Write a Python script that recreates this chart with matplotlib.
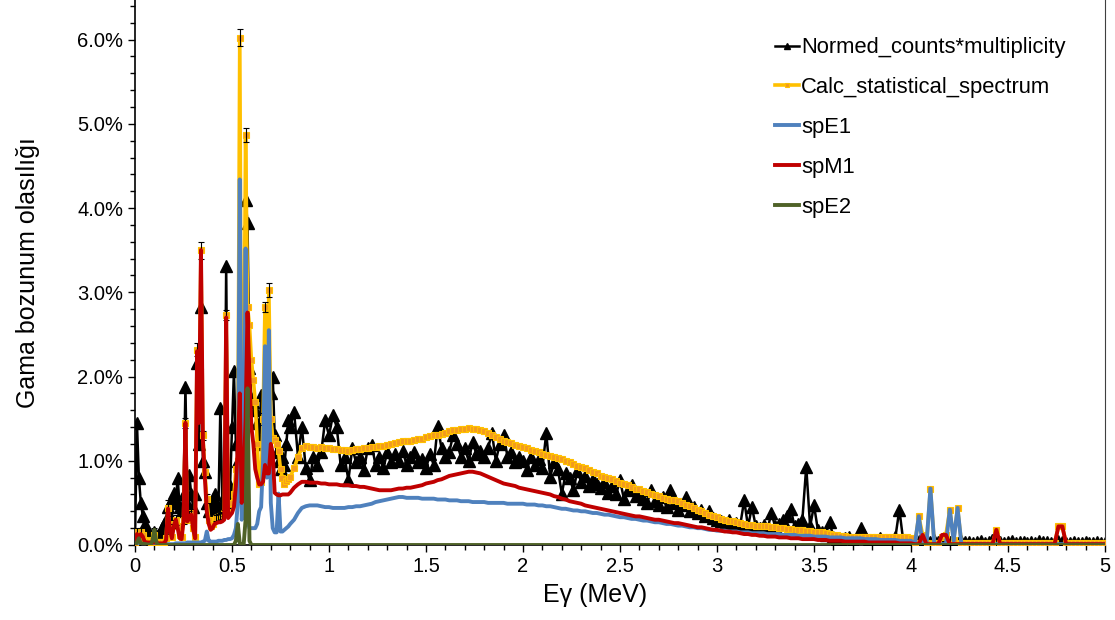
import numpy as np
import matplotlib
matplotlib.use("Agg")
import matplotlib.pyplot as plt
from matplotlib.ticker import MultipleLocator, PercentFormatter, FuncFormatter

plt.rcParams['font.family'] = ['Liberation Sans', 'DejaVu Sans']

# energy bins (MeV): 0.01 steps up to 0.8, then 0.02 steps up to 5
fine_energy = np.round(np.arange(0.0, 0.805, 0.01), 2)
coarse_energy = np.round(np.arange(0.82, 5.001, 0.02), 2)
energy = np.concatenate([fine_energy, coarse_energy])

# values in percent
# Normed_counts*multiplicity
exp_fine = [
    0.05, 1.45, 0.80, 0.50, 0.35, 0.25, 0.18, 0.12, 0.08, 0.06,
    0.15, 0.05, 0.12, 0.10, 0.20, 0.25, 0.30, 0.45, 0.35, 0.55,
    0.62, 0.50, 0.80, 0.45, 0.40, 0.60, 1.88, 0.50, 0.83, 0.60,
    0.45, 0.60, 2.16, 1.20, 2.83, 1.00, 0.87, 0.50, 0.40, 0.45,
    0.55, 0.60, 0.50, 0.45, 1.63, 0.50, 0.45, 3.31, 0.60, 0.70,
    1.40, 2.06, 1.20, 1.00, 0.90, 1.50, 2.30, 4.10, 3.82, 2.10,
    1.75, 1.70, 1.60, 1.45, 1.20, 1.78, 1.30, 1.40, 1.10, 1.00,
    1.80, 2.00, 1.30, 1.10, 1.00, 0.90, 1.05, 0.95, 1.20, 1.48, 1.40,
]
exp_coarse = [
    1.58, 1.05, 1.40, 0.92, 0.77, 1.05, 0.95, 1.10, 1.48, 1.30,
    1.54, 1.40, 0.95, 1.05, 0.77, 1.15, 0.98, 1.05, 0.89, 1.15,
    1.19, 0.95, 1.05, 0.91, 1.10, 0.98, 1.08, 1.00, 1.12, 0.95,
    1.05, 1.10, 0.98, 1.02, 0.91, 1.08, 0.95, 1.41, 1.15, 1.05,
    1.10, 1.31, 1.20, 1.05, 1.15, 1.00, 1.22, 1.08, 1.12, 1.05,
    1.15, 1.33, 1.00, 1.20, 1.31, 1.05, 1.10, 0.98, 1.05, 1.00,
    0.89, 1.05, 0.95, 1.02, 0.92, 1.33, 0.81, 0.98, 0.90, 0.61,
    0.85, 0.80, 0.65, 0.88, 0.75, 0.82, 0.70, 0.78, 0.72, 0.68,
    0.75, 0.62, 0.70, 0.60, 0.77, 0.55, 0.65, 0.71, 0.58, 0.62,
    0.55, 0.50, 0.65, 0.52, 0.48, 0.57, 0.45, 0.65, 0.50, 0.42,
    0.48, 0.57, 0.40, 0.45, 0.38, 0.42, 0.35, 0.40, 0.32, 0.30,
    0.28, 0.25, 0.30, 0.22, 0.26, 0.24, 0.53, 0.22, 0.45, 0.22,
    0.20, 0.24, 0.18, 0.38, 0.22, 0.25, 0.30, 0.35, 0.43, 0.22,
    0.25, 0.30, 0.93, 0.22, 0.47, 0.18, 0.15, 0.12, 0.27, 0.10,
    0.06, 0.05, 0.08, 0.10, 0.05, 0.08, 0.20, 0.12, 0.04, 0.06,
    0.05, 0.08, 0.05, 0.04, 0.06, 0.10, 0.42, 0.05, 0.04, 0.03,
    0.03, 0.05, 0.02, 0.04, 0.03, 0.06, 0.03, 0.04, 0.05, 0.03,
    0.04, 0.02, 0.05, 0.03, 0.04, 0.02, 0.03, 0.05, 0.02, 0.03,
    0.06, 0.03, 0.04, 0.02, 0.03, 0.05, 0.02, 0.03, 0.04, 0.02,
    0.03, 0.02, 0.05, 0.03, 0.04, 0.02, 0.03, 0.05, 0.03, 0.02,
    0.02, 0.03, 0.02, 0.02, 0.03, 0.02, 0.02, 0.03, 0.02, 0.02,
]

# Calc_statistical_spectrum
calc_fine = [
    0.02, 0.15, 0.10, 0.15, 0.12, 0.06, 0.05, 0.05, 0.04, 0.06,
    0.12, 0.04, 0.03, 0.03, 0.03, 0.03, 0.08, 0.44, 0.20, 0.10,
    0.25, 0.30, 0.22, 0.12, 0.10, 0.30, 1.45, 0.30, 0.35, 0.38,
    0.20, 0.10, 2.32, 1.50, 3.50, 1.30, 0.87, 0.55, 0.30, 0.22,
    0.25, 0.30, 0.32, 0.33, 0.34, 0.35, 0.38, 2.73, 0.40, 0.45,
    0.50, 0.60, 0.90, 1.00, 6.02, 1.20, 1.50, 4.87, 2.83, 2.61,
    2.20, 1.96, 1.70, 1.20, 0.73, 0.75, 1.50, 2.83, 1.50, 3.03,
    1.50, 1.27, 1.25, 1.20, 1.11, 0.90, 0.80, 0.73, 0.76, 0.78, 0.81,
]
calc_coarse = [
    0.91, 1.05, 1.15, 1.17, 1.16, 1.16, 1.15, 1.16, 1.15, 1.15,
    1.14, 1.14, 1.13, 1.13, 1.12, 1.13, 1.14, 1.14, 1.15, 1.15,
    1.16, 1.16, 1.17, 1.18, 1.19, 1.20, 1.21, 1.22, 1.23, 1.24,
    1.24, 1.25, 1.26, 1.26, 1.28, 1.29, 1.30, 1.31, 1.32, 1.33,
    1.35, 1.36, 1.37, 1.38, 1.38, 1.39, 1.38, 1.38, 1.37, 1.35,
    1.33, 1.31, 1.28, 1.26, 1.24, 1.22, 1.21, 1.19, 1.18, 1.16,
    1.15, 1.13, 1.12, 1.10, 1.08, 1.07, 1.06, 1.05, 1.03, 1.02,
    1.00, 0.98, 0.96, 0.94, 0.93, 0.91, 0.89, 0.87, 0.85, 0.82,
    0.81, 0.79, 0.78, 0.76, 0.74, 0.72, 0.71, 0.69, 0.67, 0.66,
    0.64, 0.63, 0.61, 0.59, 0.58, 0.56, 0.55, 0.54, 0.53, 0.52,
    0.50, 0.48, 0.46, 0.44, 0.42, 0.40, 0.38, 0.36, 0.35, 0.33,
    0.31, 0.30, 0.29, 0.28, 0.27, 0.26, 0.25, 0.24, 0.24, 0.23,
    0.23, 0.22, 0.22, 0.21, 0.21, 0.20, 0.20, 0.19, 0.19, 0.18,
    0.18, 0.18, 0.17, 0.17, 0.16, 0.16, 0.15, 0.14, 0.13, 0.12,
    0.12, 0.11, 0.11, 0.10, 0.10, 0.10, 0.10, 0.10, 0.10, 0.10,
    0.10, 0.09, 0.09, 0.09, 0.09, 0.09, 0.09, 0.09, 0.09, 0.08,
    0.02, 0.34, 0.12, 0.02, 0.67, 0.02, 0.02, 0.10, 0.12, 0.42,
    0.06, 0.44, 0.02, 0.02, 0.02, 0.02, 0.02, 0.02, 0.02, 0.02,
    0.02, 0.18, 0.02, 0.02, 0.02, 0.02, 0.02, 0.02, 0.02, 0.02,
    0.02, 0.02, 0.02, 0.02, 0.02, 0.02, 0.02, 0.22, 0.22, 0.02,
    0.02, 0.02, 0.02, 0.02, 0.02, 0.02, 0.02, 0.02, 0.02, 0.02,
]
calc_err_fine = [
    0.00, 0.05, 0.00, 0.05, 0.00, 0.00, 0.00, 0.00, 0.00, 0.00,
    0.08, 0.00, 0.00, 0.00, 0.00, 0.00, 0.00, 0.10, 0.05, 0.00,
    0.05, 0.06, 0.00, 0.00, 0.00, 0.05, 0.06, 0.00, 0.05, 0.05,
    0.00, 0.00, 0.08, 0.00, 0.10, 0.05, 0.06, 0.05, 0.00, 0.00,
    0.00, 0.00, 0.04, 0.04, 0.04, 0.04, 0.04, 0.06, 0.04, 0.00,
    0.00, 0.00, 0.00, 0.00, 0.10, 0.00, 0.00, 0.08, 0.00, 0.00,
    0.00, 0.00, 0.00, 0.00, 0.00, 0.00, 0.07, 0.06, 0.00, 0.08,
    0.00, 0.00, 0.00, 0.00, 0.00, 0.00, 0.00, 0.00, 0.00, 0.00, 0.00,
]

# spE1
e1_fine = [
    0.00, 0.00, 0.00, 0.00, 0.00, 0.00, 0.00, 0.00, 0.00, 0.00,
    0.00, 0.00, 0.00, 0.00, 0.00, 0.00, 0.01, 0.01, 0.01, 0.01,
    0.01, 0.02, 0.02, 0.02, 0.02, 0.02, 0.02, 0.03, 0.03, 0.03,
    0.03, 0.03, 0.03, 0.03, 0.03, 0.04, 0.05, 0.16, 0.05, 0.04,
    0.04, 0.04, 0.04, 0.05, 0.05, 0.05, 0.06, 0.06, 0.07, 0.07,
    0.08, 0.12, 0.20, 0.50, 4.34, 0.30, 0.50, 3.52, 0.30, 0.20,
    0.20, 0.20, 0.20, 0.25, 0.40, 0.45, 1.00, 2.36, 0.80, 2.55,
    0.50, 0.20, 0.15, 0.15, 0.61, 0.16, 0.16, 0.18, 0.20, 0.22, 0.25,
]
e1_coarse = [
    0.30, 0.38, 0.44, 0.46, 0.47, 0.47, 0.47, 0.46, 0.45, 0.45,
    0.44, 0.44, 0.44, 0.44, 0.45, 0.45, 0.46, 0.46, 0.47, 0.48,
    0.49, 0.51, 0.52, 0.53, 0.54, 0.55, 0.56, 0.57, 0.57, 0.56,
    0.56, 0.56, 0.56, 0.55, 0.55, 0.55, 0.55, 0.54, 0.54, 0.54,
    0.53, 0.53, 0.53, 0.52, 0.52, 0.52, 0.51, 0.51, 0.51, 0.51,
    0.50, 0.50, 0.50, 0.50, 0.50, 0.49, 0.49, 0.49, 0.49, 0.49,
    0.48, 0.48, 0.48, 0.47, 0.47, 0.46, 0.46, 0.45, 0.44, 0.43,
    0.43, 0.42, 0.41, 0.41, 0.40, 0.40, 0.39, 0.38, 0.38, 0.37,
    0.36, 0.36, 0.35, 0.34, 0.33, 0.33, 0.32, 0.31, 0.31, 0.30,
    0.29, 0.29, 0.28, 0.27, 0.27, 0.26, 0.25, 0.25, 0.24, 0.23,
    0.23, 0.22, 0.21, 0.21, 0.20, 0.20, 0.19, 0.18, 0.18, 0.17,
    0.17, 0.17, 0.16, 0.16, 0.16, 0.15, 0.15, 0.15, 0.14, 0.14,
    0.14, 0.14, 0.13, 0.13, 0.13, 0.13, 0.12, 0.12, 0.12, 0.12,
    0.11, 0.11, 0.11, 0.11, 0.10, 0.10, 0.10, 0.10, 0.09, 0.09,
    0.09, 0.09, 0.08, 0.08, 0.08, 0.08, 0.08, 0.07, 0.07, 0.07,
    0.07, 0.06, 0.06, 0.06, 0.06, 0.06, 0.05, 0.05, 0.05, 0.05,
    0.01, 0.34, 0.01, 0.01, 0.67, 0.01, 0.01, 0.01, 0.01, 0.42,
    0.05, 0.44, 0.01, 0.01, 0.01, 0.01, 0.01, 0.01, 0.01, 0.01,
    0.01, 0.01, 0.01, 0.01, 0.01, 0.01, 0.01, 0.01, 0.01, 0.01,
    0.01, 0.01, 0.01, 0.01, 0.01, 0.01, 0.01, 0.01, 0.01, 0.01,
    0.01, 0.01, 0.01, 0.01, 0.01, 0.01, 0.01, 0.01, 0.01, 0.01,
]

# spM1
m1_fine = [
    0.02, 0.13, 0.08, 0.13, 0.10, 0.04, 0.03, 0.03, 0.03, 0.03,
    0.03, 0.03, 0.02, 0.02, 0.02, 0.02, 0.06, 0.43, 0.18, 0.08,
    0.22, 0.30, 0.20, 0.08, 0.07, 0.28, 1.45, 0.28, 0.33, 0.36,
    0.18, 0.08, 2.30, 1.45, 3.50, 1.25, 0.80, 0.40, 0.25, 0.18,
    0.20, 0.25, 0.26, 0.27, 0.27, 0.28, 0.30, 2.70, 0.32, 0.35,
    0.38, 0.45, 0.70, 1.20, 1.80, 0.50, 0.80, 1.50, 2.76, 2.00,
    1.40, 1.20, 0.90, 0.80, 0.72, 0.72, 0.75, 0.95, 0.85, 0.85,
    1.20, 1.09, 0.62, 0.60, 0.59, 0.59, 0.60, 0.60, 0.60, 0.60, 0.62,
]
m1_coarse = [
    0.68, 0.72, 0.75, 0.75, 0.74, 0.74, 0.74, 0.73, 0.73, 0.72,
    0.72, 0.72, 0.71, 0.71, 0.71, 0.70, 0.70, 0.69, 0.69, 0.68,
    0.67, 0.66, 0.65, 0.65, 0.65, 0.65, 0.66, 0.67, 0.67, 0.68,
    0.68, 0.69, 0.70, 0.71, 0.73, 0.74, 0.75, 0.77, 0.78, 0.80,
    0.82, 0.83, 0.84, 0.85, 0.86, 0.87, 0.87, 0.86, 0.85, 0.83,
    0.81, 0.79, 0.77, 0.75, 0.73, 0.72, 0.71, 0.70, 0.68, 0.67,
    0.66, 0.65, 0.64, 0.63, 0.62, 0.61, 0.60, 0.58, 0.57, 0.55,
    0.54, 0.52, 0.51, 0.50, 0.49, 0.47, 0.46, 0.45, 0.44, 0.43,
    0.42, 0.41, 0.40, 0.39, 0.38, 0.37, 0.36, 0.35, 0.34, 0.34,
    0.33, 0.32, 0.31, 0.30, 0.30, 0.29, 0.28, 0.27, 0.26, 0.26,
    0.25, 0.24, 0.23, 0.22, 0.21, 0.21, 0.20, 0.19, 0.18, 0.18,
    0.17, 0.16, 0.16, 0.15, 0.15, 0.14, 0.13, 0.13, 0.12, 0.12,
    0.11, 0.11, 0.10, 0.10, 0.10, 0.09, 0.09, 0.09, 0.08, 0.08,
    0.08, 0.07, 0.07, 0.07, 0.07, 0.06, 0.06, 0.06, 0.05, 0.05,
    0.05, 0.05, 0.04, 0.04, 0.04, 0.04, 0.04, 0.04, 0.03, 0.03,
    0.03, 0.03, 0.03, 0.03, 0.03, 0.03, 0.02, 0.02, 0.02, 0.02,
    0.01, 0.01, 0.12, 0.01, 0.01, 0.01, 0.01, 0.12, 0.12, 0.01,
    0.01, 0.01, 0.01, 0.01, 0.01, 0.01, 0.01, 0.01, 0.01, 0.01,
    0.01, 0.18, 0.01, 0.01, 0.01, 0.01, 0.01, 0.01, 0.01, 0.01,
    0.01, 0.01, 0.01, 0.01, 0.01, 0.01, 0.01, 0.22, 0.22, 0.01,
    0.01, 0.01, 0.01, 0.01, 0.01, 0.01, 0.01, 0.01, 0.01, 0.01,
]

# spE2 (zero outside the listed bins)
e2_energy = [0.00, 0.01, 0.02, 0.03, 0.08, 0.09, 0.10, 0.11, 0.12, 0.51,
             0.52, 0.53, 0.54, 0.56, 0.57, 0.58, 0.59, 0.60, 5.00]
e2_vals = [0.00, 0.03, 0.08, 0.02, 0.00, 0.05, 0.18, 0.03, 0.00, 0.00,
           0.05, 0.25, 0.02, 0.00, 0.30, 1.86, 0.05, 0.00, 0.00]

exp_vals = np.array(exp_fine + exp_coarse)
calc_vals = np.array(calc_fine + calc_coarse)
e1_vals = np.array(e1_fine + e1_coarse)
m1_vals = np.array(m1_fine + m1_coarse)
calc_err = np.array(calc_err_fine)

fig = plt.figure(figsize=(11.15, 6.2), dpi=100)
ax = fig.add_axes([135 / 1115, 75 / 620, 970 / 1115, 545 / 620])

ax.plot(energy, exp_vals, color='black', lw=1.8, marker='^', ms=8,
        label='Normed_counts*multiplicity', zorder=2)
ax.plot(energy, calc_vals, color='#FFC000', lw=2.6, marker='s', ms=4.3,
        mfc='#F39A1E', mec='#FFC000', mew=0.8,
        label='Calc_statistical_spectrum', zorder=3)
m = calc_err > 0
ax.errorbar(fine_energy[m], np.array(calc_fine)[m], yerr=calc_err[m], fmt='none',
            ecolor='black', elinewidth=0.8, capsize=2.5, capthick=0.8, zorder=3.5)
ax.plot(energy, e1_vals, color='#4F81BD', lw=2.8, label='spE1', zorder=4)
ax.plot(energy, m1_vals, color='#C00000', lw=2.8, label='spM1', zorder=5)
ax.plot(e2_energy, e2_vals, color='#4F6228', lw=2.8, label='spE2', zorder=6)

ax.set_xlim(0, 5)
ax.set_ylim(0, 6.47)
ax.xaxis.set_major_locator(MultipleLocator(0.5))
ax.xaxis.set_minor_locator(MultipleLocator(0.1))
ax.yaxis.set_major_locator(MultipleLocator(1.0))
ax.yaxis.set_minor_locator(MultipleLocator(0.2))
ax.yaxis.set_major_formatter(PercentFormatter(xmax=100, decimals=1))
ax.xaxis.set_major_formatter(FuncFormatter(lambda v, p: '%g' % v))
ax.tick_params(which='major', direction='out', length=5, width=1, labelsize=14.5, colors='black')
ax.tick_params(which='minor', direction='out', length=3.5, width=1)

ax.spines['top'].set_visible(False)
ax.spines['right'].set_color('#404040')
ax.spines['left'].set_linewidth(1.2)
ax.spines['bottom'].set_linewidth(1.2)

ax.set_xlabel('E\u03b3 (MeV)', fontsize=18)
ax.set_ylabel('Gama bozunum olas\u0131l\u0131\u011f\u0131', fontsize=18)
ax.xaxis.set_label_coords(0.474, -0.07)
ax.yaxis.set_label_coords(-0.098, 0.5)

leg = ax.legend(loc='upper left', bbox_to_anchor=(0.695, 0.94), bbox_transform=fig.transFigure,
                frameon=False, fontsize=15.8, handlelength=1.1, handletextpad=0.1,
                labelspacing=0.86, borderpad=0, borderaxespad=0, markerscale=0.6)

fig.savefig('out.png', dpi=100)
